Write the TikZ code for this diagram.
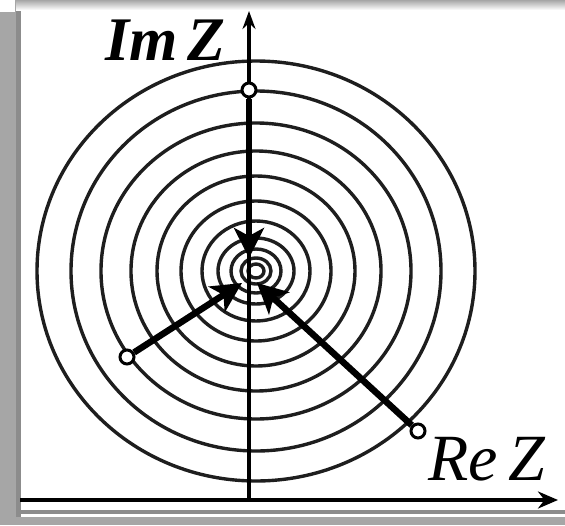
\documentclass[tikz,border=0pt]{standalone}
\usepackage{fontspec}
\setmainfont{Liberation Serif}
\usetikzlibrary{arrows.meta}
\definecolor{stripgray}{HTML}{A6A6A6}
\definecolor{bordergray}{HTML}{8C8C8C}
\definecolor{ringcol}{HTML}{1E1E1E}
\tikzset{
  ring/.style={draw=ringcol, line width=3.4pt},
  axisline/.style={draw=black, line width=3.6pt},
  vec/.style={draw=black, line width=6.5pt, -{Stealth[length=30pt,width=30pt,inset=8pt]}},
  pt/.style={circle, draw=black, fill=white, line width=3pt, minimum size=14pt, inner sep=0pt},
  lab/.style={inner sep=0pt, text=black}
}
\begin{document}
\begin{tikzpicture}[x=1pt,y=-1pt]
\useasboundingbox (0,0) rectangle (565,525);
% background and frame
\fill[white] (0,0) rectangle (565,525);
\fill[stripgray] (0,0) rectangle (16,525);
\fill[bordergray] (16,8) rectangle (21,518);
\fill[top color=gray!70, bottom color=white] (16,0) rectangle (565,10);
\fill[white] (0,0) rectangle (15,12);
\fill[stripgray] (0,517) rectangle (565,525);
\draw[draw=bordergray, line width=3.5pt] (20,512) -- (565,512);
% concentric rings
\foreach \rx/\ry in {219/210,185/180,155/148,125/120,99/95,75/70,54/50,38/33,25/22,15/13,8/7}{
  \draw[ring] (256,271) ellipse [x radius=\rx pt, y radius=\ry pt];
}
% axes
\coordinate (xs) at (20,500);
\coordinate (xe) at (558,500);
\coordinate (ys) at (249,500);
\coordinate (ye) at (249,11);
\draw[axisline, -{Stealth[length=20pt,width=17pt]}] (xs) -- (xe);
\draw[axisline, -{Stealth[length=18pt,width=13pt]}] (ys) -- (ye);
% points
\node[pt] (A) at (249,90) {};
\node[pt] (B) at (127,357) {};
\node[pt] (C) at (418,431) {};
\coordinate (tA) at (249,258);
\coordinate (tB) at (242,283);
\coordinate (tC) at (257,283);
\draw[vec] (A) -- (tA);
\draw[vec] (B) -- (tB);
\draw[vec] (C) -- (tC);
% labels
\node[lab, anchor=base east] (im) at (226,60) {\fontsize{62}{62}\selectfont\bfseries\itshape Im\,Z};
\node[lab, anchor=base west] (re) at (428,480) {\fontsize{66}{66}\selectfont\itshape Re\,Z};
\end{tikzpicture}
\end{document}
